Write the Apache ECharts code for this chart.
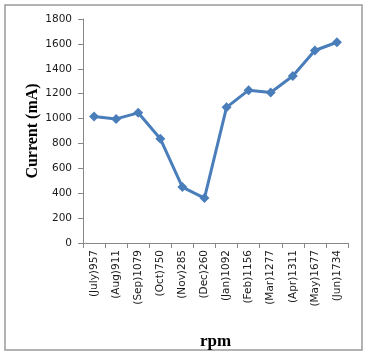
<!DOCTYPE html>
<html><head><meta charset="utf-8">
<script src="https://cdn.jsdelivr.net/npm/echarts@6/dist/echarts.min.js"></script>
<style>html,body{margin:0;padding:0;background:#fff;}#c{width:371px;height:355px;}</style>
</head><body><div id="c"></div>
<script>
var categories = ['(July)957','(Aug)911','(Sep)1079','(Oct)750','(Nov)285','(Dec)260','(Jan)1092','(Feb)1156','(Mar)1277','(Apr)1311','(May)1677','(Jun)1734'];
var current = [1016, 997, 1046, 838, 449, 361, 1090, 1228, 1209, 1342, 1547, 1613];
var chart = echarts.init(document.getElementById('c'));
chart.setOption({
  animation: false,
  graphic: [{type:'rect', shape:{x:5, y:5, width:357, height:345}, style:{fill:'none', stroke:'#9a9a9a', lineWidth:1.5}, silent:true}],
  grid: {left: 83, right: 23, top: 19, bottom: 111},
  xAxis: {
    type: 'category', data: categories,
    name: 'rpm', nameLocation: 'middle', nameGap: 90, nameMoveOverlap: false,
    nameTextStyle: {fontFamily: 'Liberation Serif', fontWeight: 'bold', fontSize: 17, color: '#000'},
    axisLine: {lineStyle: {color: '#888', width: 1}},
    axisTick: {show: true, alignWithLabel: false, length: 5, lineStyle: {color: '#888'}},
    axisLabel: {rotate: 90, interval: 0, fontFamily: 'DejaVu Sans', fontSize: 10.5, color: '#1a1a1a', margin: 7}
  },
  yAxis: {
    type: 'value', min: 0, max: 1800, interval: 200,
    name: 'Current (mA)', nameLocation: 'middle', nameGap: 42, nameMoveOverlap: false,
    nameTextStyle: {fontFamily: 'Liberation Serif', fontWeight: 'bold', fontSize: 16, color: '#000'},
    axisLine: {show: true, lineStyle: {color: '#888', width: 1}},
    axisTick: {show: true, length: 5, lineStyle: {color: '#888'}},
    splitLine: {show: false},
    axisLabel: {fontFamily: 'DejaVu Sans', fontSize: 10.5, color: '#1a1a1a', margin: 11, formatter: function (v) { return String(v); }}
  },
  series: [{
    type: 'line', data: current,
    symbol: 'diamond', symbolSize: 10,
    lineStyle: {color: '#4a7ebb', width: 3},
    itemStyle: {color: '#4a7ebb'}
  }]
});
</script></body></html>
